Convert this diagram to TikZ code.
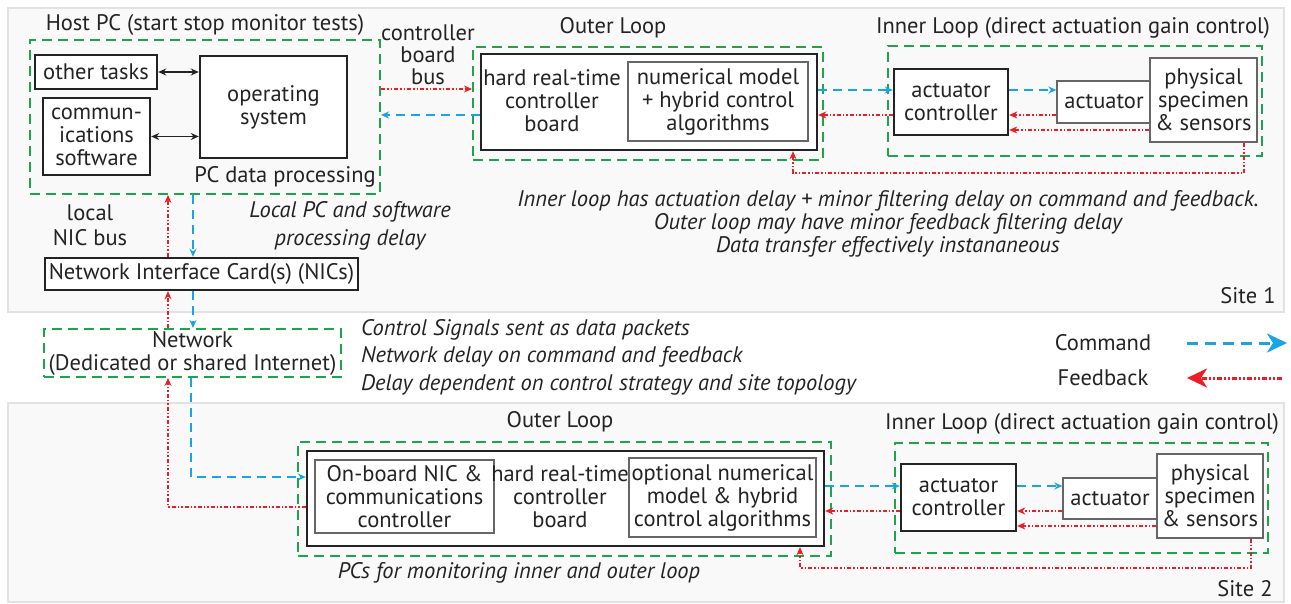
\documentclass[tikz,border=0pt]{standalone}
\usepackage{fontspec}
\setmainfont{PT Sans}
\usetikzlibrary{arrows.meta}
\definecolor{loopgreen}{RGB}{30,165,75}
\definecolor{cmdblue}{RGB}{25,165,225}
\definecolor{fbred}{RGB}{235,30,40}
\definecolor{sitegray}{RGB}{249,249,249}
\definecolor{siteedge}{RGB}{226,226,226}
\definecolor{inkgray}{RGB}{35,35,35}

\begin{document}
\begin{tikzpicture}[x=1pt, y=-1pt,
		every node/.style={font=\fontsize{22.5}{23}\selectfont, text=inkgray, inner sep=0pt},
		site/.style={fill=sitegray, draw=siteedge, line width=2pt},
		loopbox/.style={draw=loopgreen, line width=2pt, dash pattern=on 10pt off 6pt},
		hardbox/.style={draw=inkgray, fill=white, line width=2.4pt, align=center},
		softbox/.style={draw=black!60, fill=white, line width=1.3pt, align=center},
		cmdline/.style={draw=cmdblue, line width=1.8pt, dash pattern=on 9pt off 6pt, -{Stealth[length=8pt,width=7pt]}},
		fbline/.style={draw=fbred, line width=1.8pt, dash pattern=on 4pt off 2pt on 1.5pt off 2pt on 1.5pt off 2pt, -{Stealth[length=8pt,width=7pt]}},
		twoway/.style={draw=inkgray, line width=1.4pt, {Stealth[length=8pt,width=7pt]}-{Stealth[length=8pt,width=7pt]}},
		note/.style={font=\fontsize{22.5}{23}\selectfont\itshape, align=center}
	]
	\useasboundingbox (0,0) rectangle (1291,604);
	\draw[site] (8,8) rectangle (1284,312);
	\draw[site] (8,403) rectangle (1284,602);

	% site 1: host PC
	\node (hostlbl) at (205,25) {Host PC (start stop monitor tests)};
	\node[loopbox, minimum width=350, minimum height=154] (hostpc) at (205,117) {};
	\node[hardbox, minimum width=122, minimum height=34] (tasks) at (96,72) {other tasks};
	\node[hardbox, minimum width=107, minimum height=77] (comms) at (96.5,136.5) {commun-\\ications\\software};
	\node[hardbox, minimum width=147, minimum height=102] (os) at (273.5,107) {operating\\system};
	\node (pcdata) at (285,177) {PC data processing};
	\draw[twoway] (tasks) -- (os.west |- tasks);
	\draw[twoway] (comms) -- (os.west |- comms);

	\node[align=center, font=\fontsize{22.5}{25}\selectfont] (nicbus) at (90,225) {local\\NIC bus};
	\node[note, font=\fontsize{22.5}{28}\selectfont\itshape] (pcdelay) at (350,226) {Local PC and software\\processing delay};
	\node[hardbox, minimum width=313, minimum height=32] (nic) at (201.5,274) {Network Interface Card(s) (NICs)};
	\draw[fbline] (nic.north -| 168,0) -- (hostpc.south -| 168,0);
	\draw[cmdline] (hostpc.south -| 193,0) -- (nic.north -| 193,0);

	% site 1: outer loop
	\node[align=center, font=\fontsize{22.5}{22}\selectfont] (boardbus) at (428,55) {controller\\board\\bus};
	\node (outerlbl1) at (613,28) {Outer Loop};
	\node[loopbox, minimum width=350, minimum height=113] (outer1) at (648,103.5) {};
	\node[hardbox, minimum width=336, minimum height=96] (board1) at (649,102) {};
	\node[align=center] (boardtxt1) at (552,101) {hard real-time\\controller\\board};
	\node[softbox, minimum width=180, minimum height=79] (model1) at (718,101.5) {numerical model\\+ hybrid control\\algorithms};
	\draw[fbline] (hostpc.east |- 0,89) -- (outer1.west |- 0,89);
	\draw[cmdline] (board1.west |- 0,115) -- (hostpc.east |- 0,115);

	% site 1: inner loop
	\node (innerlbl1) at (1073,28) {Inner Loop (direct actuation gain control)};
	\node[loopbox, minimum width=374, minimum height=110] (inner1) at (1075,101) {};
	\node[hardbox, minimum width=114, minimum height=66] (actctl1) at (951,102) {actuator\\controller};
	\node[softbox, minimum width=94, minimum height=42] (act1) at (1104,102) {actuator};
	\node[softbox, minimum width=107, minimum height=84] (spec1) at (1203.5,100) {physical\\specimen\\\& sensors};
	\draw[cmdline] (board1.east |- 0,90) -- (actctl1.west |- 0,90);
	\draw[fbline] (actctl1.west |- 0,115) -- (board1.east |- 0,115);
	\draw[cmdline] (actctl1.east |- 0,90) -- (act1.west |- 0,90);
	\draw[fbline] (act1.west |- 0,115) -- (actctl1.east |- 0,115);
	\draw[fbline] (spec1.west |- 0,130) -- (actctl1.east |- 0,130);
	\draw[fbline] (spec1.south -| 1244,0) -- (1244,173) -| (board1.south -| 793,0);

	\node[note] (delay1) at (888,224) {Inner loop has actuation delay + minor filtering delay on command and feedback.\\Outer loop may have minor feedback filtering delay\\Data transfer effectively instananeous};
	\node (site1) at (1248,296) {Site 1};

	% network
	\node[loopbox, minimum width=297, minimum height=48, align=center] (net) at (192.5,353) {Network\\(Dedicated or shared Internet)};
	\draw[fbline] (net.north -| 168,0) -- (nic.south -| 168,0);
	\draw[cmdline] (nic.south -| 193,0) -- (net.north -| 193,0);
	\node[note, align=left, anchor=west, font=\fontsize{22.5}{27.5}\selectfont\itshape] (netdelay) at (361,357) {Control Signals sent as\ data packets\\Network delay on\ command and feedback\\Delay dependent on control strategy and site topology};

	% legend
	\node (cmdlbl) at (1103,343) {Command};
	\node (fblbl) at (1103,378) {Feedback};
	\coordinate (cmdA) at (1187,343);
	\coordinate (cmdB) at (1287,343);
	\coordinate (fbA) at (1282,378);
	\coordinate (fbB) at (1187,378);
	\draw[cmdline, line width=3pt, dash pattern=on 11pt off 7pt, -{Stealth[length=20pt,width=19pt,inset=6pt]}] (cmdA) -- (cmdB);
	\draw[fbline, line width=3pt, dash pattern=on 5pt off 2pt on 2pt off 2pt on 2pt off 2pt, -{Stealth[length=20pt,width=19pt,inset=6pt]}] (fbA) -- (fbB);

	% site 2: outer loop
	\node (outerlbl2) at (560,422) {Outer Loop};
	\node[loopbox, minimum width=533, minimum height=114] (outer2) at (564.5,499) {};
	\node[hardbox, minimum width=517, minimum height=95] (board2) at (565.5,498.5) {};
	\node[softbox, minimum width=179, minimum height=73] (onboard) at (404.5,496.5) {On-board NIC \&\\communications\\controller};
	\node[align=center] (boardtxt2) at (560,497) {hard real-time\\controller\\board};
	\node[softbox, minimum width=187, minimum height=79] (model2) at (722.5,497.5) {optional numerical\\model \& hybrid\\control algorithms};
	\node[note] (monitor) at (519,573) {PCs for monitoring inner and outer loop};
	\draw[cmdline] (net.south -| 191,0) |- (board2.west |- 0,477);
	\draw[fbline] (board2.west |- 0,507) -| (net.south -| 168,0);

	% site 2: inner loop
	\node (innerlbl2) at (1082,424) {Inner Loop (direct actuation gain control)};
	\node[loopbox, minimum width=373, minimum height=110] (inner2) at (1081.5,498) {};
	\node[hardbox, minimum width=115, minimum height=67] (actctl2) at (958.5,497.5) {actuator\\controller};
	\node[softbox, minimum width=94, minimum height=41] (act2) at (1110,498.5) {actuator};
	\node[softbox, minimum width=106, minimum height=84] (spec2) at (1210,496) {physical\\specimen\\\& sensors};
	\draw[cmdline] (board2.east |- 0,486) -- (actctl2.west |- 0,486);
	\draw[fbline] (actctl2.west |- 0,511) -- (board2.east |- 0,511);
	\draw[cmdline] (actctl2.east |- 0,486) -- (act2.west |- 0,486);
	\draw[fbline] (act2.west |- 0,511) -- (actctl2.east |- 0,511);
	\draw[fbline] (spec2.west |- 0,526) -- (actctl2.east |- 0,526);
	\draw[fbline] (spec2.south -| 1251,0) -- (1251,568) -| (board2.south -| 800,0);
	\node (site2) at (1245,589) {Site 2};
\end{tikzpicture}
\end{document}
